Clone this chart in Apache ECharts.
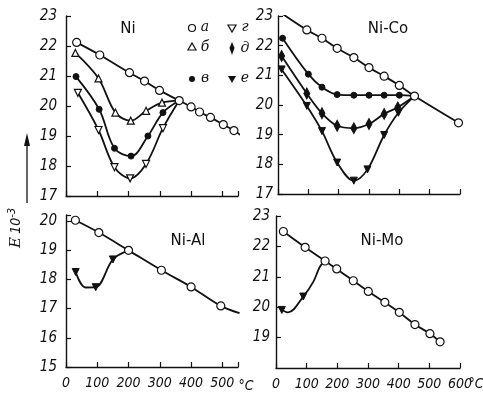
<!DOCTYPE html>
<html>
<head>
<meta charset="utf-8">
<script src="https://cdn.jsdelivr.net/npm/echarts@6/dist/echarts.min.js"></script>
<style>
  html, body { margin: 0; padding: 0; background: #fff; }
  #chart { width: 483px; height: 397px; }
</style>
</head>
<body>
<div id="chart"></div>
<script>
// --- data (x = °C, y = E·10^-3) ---
// Ni
const niA = [[34, 22.12], [108, 21.7], [203, 21.11], [251, 20.83], [299, 20.52], [362, 20.18], [400, 19.97], [427, 19.8], [462, 19.62], [503, 19.38], [537, 19.18], [558, 19.03]];
const niB = [[30, 21.77], [104, 20.92], [158, 19.78], [207, 19.51], [256, 19.84], [307, 20.11], [362, 20.18]];
const niV = [[32, 20.98], [106, 19.89], [155, 18.59], [208, 18.33], [262, 19.0], [310, 19.78], [362, 20.18]];
const niG = [[38, 20.44], [104, 19.2], [155, 17.96], [205, 17.59], [256, 18.07], [310, 19.26], [362, 20.18]];
// Ni-Co
const coA = [[15, 23.07], [95, 22.53], [145, 22.25], [195, 21.91], [250, 21.6], [300, 21.26], [350, 20.97], [400, 20.66], [450, 20.3], [595, 19.4]];
const coV = [[15, 22.25], [100, 21.04], [145, 20.6], [195, 20.35], [250, 20.33], [300, 20.33], [350, 20.33], [400, 20.33], [450, 20.3]];
const coD = [[12, 21.65], [95, 20.39], [145, 19.72], [195, 19.3], [250, 19.22], [300, 19.36], [350, 19.7], [395, 19.92], [450, 20.3]];
const coE = [[12, 21.2], [95, 19.97], [145, 19.12], [195, 18.06], [250, 17.45], [295, 17.83], [350, 18.99], [397, 19.74], [450, 20.3]];
// Ni-Al
const alA = [[30, 20.02], [105, 19.6], [200, 18.99], [305, 18.31], [400, 17.74], [495, 17.09], [555, 16.84]];
const alE = [[31, 18.25], [62, 17.72], [95, 17.73], [150, 18.68], [200, 18.99]];
// Ni-Mo
const moA = [[24, 22.49], [95, 21.97], [160, 21.52], [198, 21.26], [252, 20.87], [301, 20.52], [355, 20.16], [402, 19.83], [453, 19.43], [502, 19.13], [535, 18.86]];
const moE = [[19, 19.91], [40, 19.83], [89, 20.35], [122, 20.84], [143, 21.33], [160, 21.52]];

const xTicks = [0, 100, 200, 300, 400, 500, 600];
const panelNames = ['Ni', 'Ni-Co', 'Ni-Al', 'Ni-Mo'];
const legendKeys = ['а', 'б', 'в', 'г', 'д', 'е'];

const INK = '#111';
const numFont = "'DejaVu Sans Condensed', 'Liberation Sans Narrow', sans-serif";
const dSymbol = 'path://M5 0 L7.5 8 L5 16 L2.5 8 Z';
const downTri = 'path://M0 0 L10 0 L5 9 Z';

// points listed in `bare` are drawn without a marker (line ends, joins)
function pts(arr, bare) {
  return arr.map((p, i) => (bare.includes(i) ? { value: p, symbol: 'none' } : p));
}

function curve(idx, data, symbol, filled, size) {
  return {
    type: 'line',
    xAxisIndex: idx,
    yAxisIndex: idx,
    data: data,
    smooth: 0.35,
    symbol: symbol,
    symbolSize: size || 7,
    showAllSymbol: true,
    lineStyle: { color: INK, width: 1.8 },
    itemStyle: filled
      ? { color: INK, borderColor: INK, borderWidth: 1 }
      : { color: '#fff', borderColor: INK, borderWidth: 1.2 },
    emphasis: { disabled: true },
    z: filled ? 3 : 4,
    animation: false
  };
}

function xAx(idx, max, showLabels) {
  return {
    type: 'value', gridIndex: idx, min: 0, max: max, interval: 100,
    splitLine: { show: false },
    axisLine: { lineStyle: { color: INK, width: 1.4 } },
    axisTick: { inside: true, length: 5, lineStyle: { color: INK, width: 1.2 } },
    axisLabel: {
      show: showLabels, margin: 9, color: INK, fontSize: 14, fontStyle: 'italic', fontFamily: numFont,
      formatter: v => (xTicks.includes(v) ? String(v) : '')
    }
  };
}

function yAx(idx, min, max, margin) {
  return {
    type: 'value', gridIndex: idx, min: min, max: max, interval: 1,
    splitLine: { show: false },
    axisLine: { lineStyle: { color: INK, width: 1.4 } },
    axisTick: { inside: true, length: 5, lineStyle: { color: INK, width: 1.2 } },
    axisLabel: {
      margin: margin, color: INK, fontSize: 15, fontStyle: 'italic', fontFamily: numFont,
      formatter: v => (Number.isInteger(v) ? String(v) : ''),
      showMinLabel: min !== 18
    }
  };
}

const txt = (x, y, s, extra) => ({
  type: 'text', x: x, y: y,
  style: Object.assign({ text: s, fill: INK, fontSize: 14, fontFamily: 'DejaVu Sans, sans-serif', align: 'center', verticalAlign: 'middle' }, extra || {})
});
const letter = (x, y, s) => txt(x, y, s, { fontSize: 14, fontStyle: 'italic', fontFamily: "'DejaVu Serif', serif" });

const chart = echarts.init(document.getElementById('chart'), null, { renderer: 'canvas' });
chart.setOption({
  backgroundColor: '#fff',
  animation: false,
  grid: [
    { left: 66, top: 16, width: 172, height: 180 },
    { left: 278, top: 16, width: 182, height: 178 },
    { left: 66, top: 215, width: 172, height: 152 },
    { left: 276, top: 216, width: 184, height: 152 }
  ],
  xAxis: [xAx(0, 550, false), xAx(1, 600, false), xAx(2, 550, true), xAx(3, 600, true)],
  yAxis: [yAx(0, 17, 23, 9), yAx(1, 17, 23, 5), yAx(2, 15, 20.2, 9), yAx(3, 18, 23, 6)],
  series: [
    curve(0, pts(niA, [niA.length - 1]), 'circle', false, 8),
    curve(0, pts(niB, [niB.length - 1]), 'triangle', false),
    curve(0, pts(niV, [niV.length - 1]), 'circle', true, 6),
    curve(0, pts(niG, [niG.length - 1]), downTri, false),
    curve(1, pts(coV, [coV.length - 1]), 'circle', true, 6),
    curve(1, pts(coD, [coD.length - 1]), dSymbol, true, [6, 11]),
    curve(1, pts(coE, [coE.length - 1]), downTri, true),
    curve(1, coA, 'circle', false, 8),
    curve(2, pts(alE, [1, alE.length - 1]), downTri, true),
    curve(2, pts(alA, [alA.length - 1]), 'circle', false, 8),
    curve(3, pts(moE, [1, 3, 4, moE.length - 1]), downTri, true),
    curve(3, moA, 'circle', false, 8)
  ],
  graphic: [
    txt(128, 29, panelNames[0], { fontSize: 15 }),
    txt(388, 29, panelNames[1], { fontSize: 15 }),
    txt(188, 241, panelNames[2], { fontSize: 15 }),
    txt(382, 241, panelNames[3], { fontSize: 15 }),
    // legend
    { type: 'circle', shape: { cx: 192, cy: 28, r: 3.5 }, style: { fill: '#fff', stroke: INK, lineWidth: 1.2 } },
    letter(205, 27, legendKeys[0]),
    { type: 'polygon', shape: { points: [[188, 50], [196, 50], [192, 43]] }, style: { fill: '#fff', stroke: INK, lineWidth: 1.2 } },
    letter(205, 47, legendKeys[1]),
    { type: 'circle', shape: { cx: 192, cy: 79, r: 3 }, style: { fill: INK } },
    letter(205, 78, legendKeys[2]),
    { type: 'polygon', shape: { points: [[228, 25], [236, 25], [232, 32]] }, style: { fill: '#fff', stroke: INK, lineWidth: 1.2 } },
    letter(245, 27, legendKeys[3]),
    { type: 'polygon', shape: { points: [[232, 42], [234.5, 48], [232, 55], [229.5, 48]] }, style: { fill: INK } },
    letter(245, 48, legendKeys[4]),
    { type: 'polygon', shape: { points: [[228, 76], [236, 76], [232, 83]] }, style: { fill: INK } },
    letter(245, 78, legendKeys[5]),
    // °C after the last tick labels
    txt(246, 386, '°C', { fontSize: 14, fontStyle: 'italic', fontFamily: numFont }),
    txt(476, 384, '°C', { fontSize: 14, fontStyle: 'italic', fontFamily: numFont }),
    // axis title E·10^-3 with arrow
    {
      type: 'text', x: 16, y: 228, rotation: Math.PI / 2,
      style: {
        text: '{e|E} {n|10}{s|-3}', fill: INK, align: 'center', verticalAlign: 'middle',
        rich: {
          e: { fontSize: 15, fontStyle: 'italic', fontFamily: "'DejaVu Serif', serif" },
          n: { fontSize: 14, fontStyle: 'italic', fontFamily: numFont },
          s: { fontSize: 11, fontStyle: 'italic', fontFamily: numFont, verticalAlign: 'top', padding: [0, 0, 8, 0] }
        }
      }
    },
    { type: 'line', shape: { x1: 27, y1: 203, x2: 27, y2: 140 }, style: { stroke: INK, lineWidth: 1.3 } },
    { type: 'polygon', shape: { points: [[27, 133], [24, 146], [30, 146]] }, style: { fill: INK } }
  ]
});
</script>
</body>
</html>
